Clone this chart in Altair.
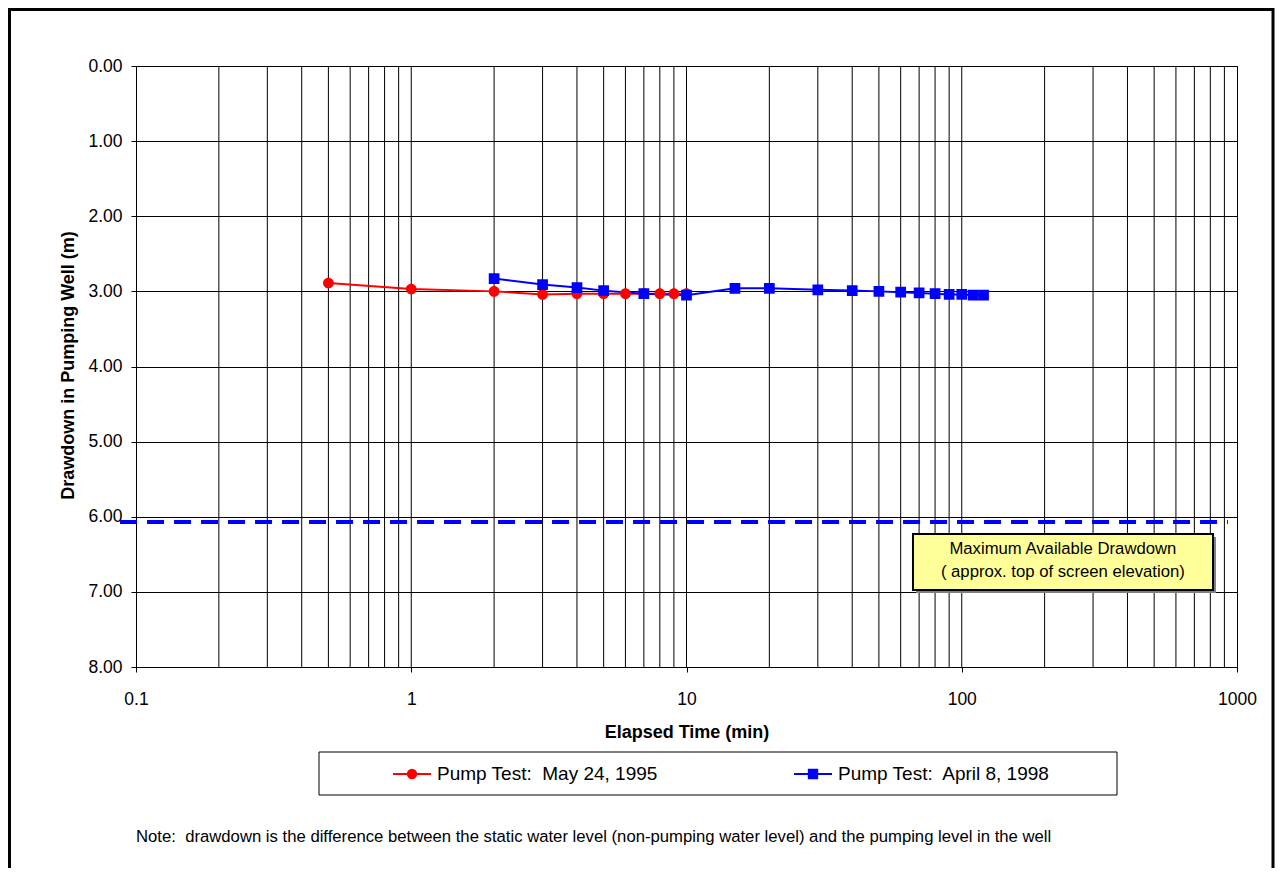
import altair as alt
import pandas as pd

# ---------------- data ----------------
SERIES = ["Pump Test:\u00a0 May 24, 1995", "Pump Test:\u00a0 April 8, 1998"]
COLORS = ["#FF0000", "#0000FF"]

RED_TIME = [0.5, 1, 2, 3, 4, 5, 6, 7, 8, 9, 10]
RED_DRAWDOWN = [2.89, 2.97, 3.00, 3.04, 3.03, 3.03, 3.03, 3.03, 3.03, 3.03, 3.03]

BLUE_TIME = [2, 3, 4, 5, 7, 10, 15, 20, 30, 40, 50, 60, 70, 80, 90, 100, 110, 120]
BLUE_DRAWDOWN = [2.83, 2.91, 2.95, 2.99, 3.03, 3.05, 2.96, 2.96, 2.98, 2.99,
                 3.00, 3.01, 3.02, 3.03, 3.04, 3.04, 3.05, 3.05]

X_TICKS = [0.1, 1, 10, 100, 1000]
X_GRID = [0.2, 0.3, 0.4, 0.5, 0.6, 0.7, 0.8, 0.9,
          1, 2, 3, 4, 5, 6, 7, 8, 9,
          10, 20, 30, 40, 50, 60, 70, 80, 90,
          100, 200, 300, 400, 500, 600, 700, 800, 900]
Y_TICKS = [0, 1, 2, 3, 4, 5, 6, 7, 8]

MAX_DRAWDOWN = [6.07]
MAX_LINE_START = [0.0875]
MAX_LINE_END = [927]

ANN_LINES = ["Maximum Available Drawdown", "( approx. top of screen elevation)"]
NOTE = ("Note:\u00a0 drawdown is the difference between the static water level "
        "(non-pumping water level) and the pumping level in the well")

FONT = "Liberation Sans"

# ---------------- tables ----------------
rows = []
for t, d in zip(RED_TIME, RED_DRAWDOWN):
    rows.append({"series": SERIES[0], "t": t, "d": d})
for t, d in zip(BLUE_TIME, BLUE_DRAWDOWN):
    rows.append({"series": SERIES[1], "t": t, "d": d})
df = pd.DataFrame(rows)

X_SCALE = alt.Scale(type="log", domain=[0.1, 1000])
Y_SCALE = alt.Scale(domain=[0, 8], reverse=True)

CIRCLE_PATH = "M-1,0H1M0.22,0A0.22,0.22,0,1,1,-0.22,0A0.22,0.22,0,1,1,0.22,0Z"
SQUARE_PATH = "M-1,0H1M-0.22,-0.22H0.22V0.22H-0.22Z"

# series lines (carry the axes)
lines_x = alt.X("t:Q", scale=X_SCALE, axis=alt.Axis(
    values=X_TICKS, format="~g", grid=False, tickSize=5,
    labelPadding=32, labelBaseline="alphabetic", labelFlush=False,
    labelOverlap=False, title="Elapsed Time (min)",
    titleY=70, titleBaseline="alphabetic",
))
lines_y = alt.Y("d:Q", scale=Y_SCALE, axis=alt.Axis(
    values=Y_TICKS, format=".2f", grid=True, tickSize=5, labelPadding=9,
    title="Drawdown in Pumping Well (m)", titleAngle=270,
    titleX=-63, titleY=299, titleBaseline="alphabetic", titleAlign="center",
))

# vertical log grid
grid = alt.Chart(pd.DataFrame({"t": X_GRID})).mark_rule(
    color="black", strokeWidth=1
).encode(x=alt.X("t:Q", scale=X_SCALE))

# annotation box
ann = pd.DataFrame({"t": [66.5], "t2": [818], "d": [6.23], "d2": [6.975]})
shadow = alt.Chart(ann).mark_rect(
    color="#808080", xOffset=3, x2Offset=3, yOffset=3, y2Offset=3
).encode(
    x=alt.X("t:Q", scale=X_SCALE), x2="t2:Q",
    y=alt.Y("d:Q", scale=Y_SCALE), y2="d2:Q",
)
box = alt.Chart(ann).mark_rect(
    fill="#FFFF99", stroke="black", strokeWidth=2
).encode(
    x=alt.X("t:Q", scale=X_SCALE), x2="t2:Q",
    y=alt.Y("d:Q", scale=Y_SCALE), y2="d2:Q",
)
ann_text = alt.Chart(pd.DataFrame({
    "t": [233, 233], "d": [6.43, 6.73], "label": ANN_LINES
})).mark_text(
    font=FONT, fontSize=16.7, color="black", align="center", baseline="middle"
).encode(
    x=alt.X("t:Q", scale=X_SCALE),
    y=alt.Y("d:Q", scale=Y_SCALE),
    text="label:N",
)

# dashed max drawdown line
max_line = alt.Chart(pd.DataFrame({
    "t": MAX_LINE_START, "t2": MAX_LINE_END, "d": MAX_DRAWDOWN
})).mark_rule(
    color="#0000FF", strokeWidth=4, strokeDash=[17, 10], clip=False
).encode(
    x=alt.X("t:Q", scale=X_SCALE), x2="t2:Q",
    y=alt.Y("d:Q", scale=Y_SCALE),
)

LEG = alt.Legend(
    title=None, orient="none", legendX=256, legendY=688, direction="horizontal",
    labelFont=FONT, labelFontSize=19, labelColor="black", labelLimit=500,
    symbolSize=1444, symbolStrokeWidth=2, symbolOpacity=1, labelOffset=5,
    columnPadding=132, padding=0,
)

lines = alt.Chart(df).mark_line(strokeWidth=2).encode(
    x=lines_x,
    y=lines_y,
    stroke=alt.Stroke("series:N", scale=alt.Scale(domain=SERIES, range=COLORS),
                      legend=LEG),
    detail="series:N",
)

points = alt.Chart(df).mark_point(filled=True, opacity=1, size=2364).encode(
    x=alt.X("t:Q", scale=X_SCALE),
    y=alt.Y("d:Q", scale=Y_SCALE),
    fill=alt.Fill("series:N", scale=alt.Scale(domain=SERIES, range=COLORS), legend=LEG),
    shape=alt.Shape("series:N", scale=alt.Scale(domain=SERIES, range=[CIRCLE_PATH, SQUARE_PATH]),
                    legend=LEG),
)

# decorations: legend frame, outer frame, note
legend_box = alt.Chart(pd.DataFrame({"a": [0]})).mark_rect(
    fillOpacity=0, stroke="black", strokeWidth=1
).encode(x=alt.value(183), x2=alt.value(981), y=alt.value(686), y2=alt.value(729))

outer = alt.Chart(pd.DataFrame({"a": [0]})).mark_rect(
    fillOpacity=0, stroke="black", strokeWidth=3
).encode(x=alt.value(-126.5), x2=alt.value(1137), y=alt.value(-56.5), y2=alt.value(830))

note = alt.Chart(pd.DataFrame({"note": [NOTE]})).mark_text(
    font=FONT, fontSize=16.7, color="black", align="left", baseline="alphabetic"
).encode(text="note:N", x=alt.value(0), y=alt.value(775.7))

chart = alt.layer(
    lines.mark_line(strokeWidth=0, opacity=0), grid, max_line, shadow, box, ann_text,
    lines, points, legend_box, outer, note
).properties(
    width=1101, height=601,
    autosize=alt.AutoSizeParams(type="none"),
    padding={"left": 128, "top": 58, "right": 38, "bottom": 201},
).configure(
    font=FONT, background="white"
).configure_view(
    stroke="black", strokeWidth=1
).configure_axis(
    labelFont=FONT, labelFontSize=17.5, labelColor="black",
    titleFont=FONT, titleFontSize=18, titleFontWeight="bold", titleColor="black",
    domainColor="black", tickColor="black", gridColor="black", gridOpacity=1,
    gridWidth=1, domainWidth=1, tickWidth=1,
)

chart.save("out.html", embed_options={"renderer": "svg", "actions": False})
